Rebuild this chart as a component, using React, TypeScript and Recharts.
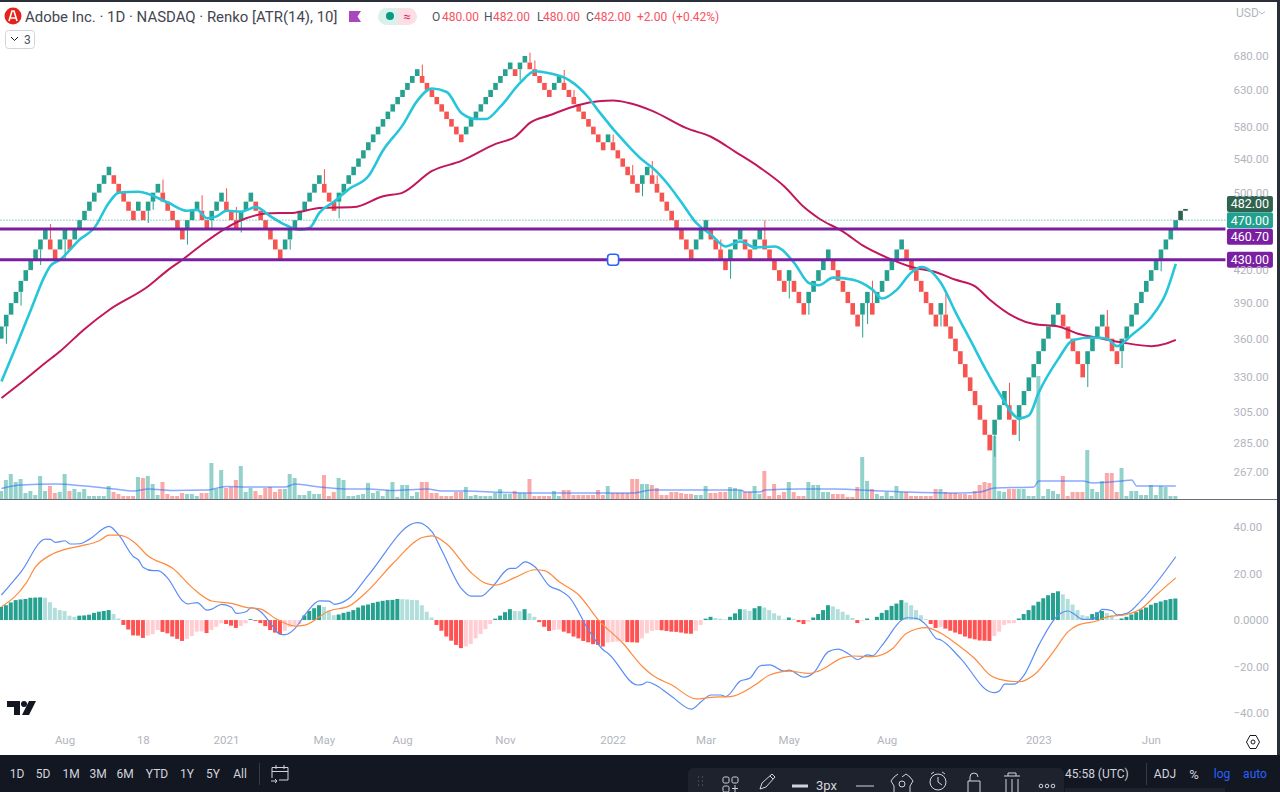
import React from "react";
import {
  Bar,
  Cell,
  ComposedChart,
  Line,
  ReferenceDot,
  ReferenceLine,
  XAxis,
  YAxis,
} from "recharts";

// renko closes, brick size 10, last entry is the forming brick
const closes = [
  370, 380, 390, 400, 410, 420, 430, 440, 450, 460,
  440, 430, 450, 460, 440, 460, 470, 480, 490, 500,
  510, 520, 530, 510, 500, 490, 480, 470, 490, 470,
  490, 500, 510, 490, 480, 470, 460, 450, 470, 480,
  490, 470, 460, 480, 490, 500, 480, 470, 460, 480,
  490, 500, 480, 470, 460, 450, 440, 430, 450, 460,
  470, 480, 490, 500, 510, 520, 500, 490, 480, 500,
  510, 520, 530, 540, 550, 560, 570, 580, 590, 600,
  610, 620, 630, 640, 650, 660, 640,
  630, 620, 610, 600, 590, 580, 570, 560,
  580, 590, 600, 610, 620, 630, 640, 650, 660, 670,
  650, 670, 680, 660, 650, 640, 630, 620, 640, 650,
  630, 620, 610, 600, 590, 580, 570, 560, 550, 570,
  550, 540, 530, 520, 510, 500, 520, 530, 510, 500,
  490, 480, 470, 460, 450, 440, 430, 450, 460, 470,
  450, 440, 430, 420, 440, 450, 460, 440, 430, 450,
  460, 440, 430, 420, 410, 400, 420, 400, 390, 380,
  400, 410, 420,
  430, 440, 420, 410, 400, 390, 380, 370, 390, 400,
  380, 400, 410, 420, 430, 440, 450, 430, 420, 410,
  400, 390, 380, 370, 390, 370, 360, 350, 340, 330,
  320, 310, 300, 290, 280, 300, 310, 320, 300, 290,
  310, 320, 330, 340, 350, 360, 370, 380, 390, 370,
  360, 350, 340, 330, 350, 360, 370, 380, 360, 350,
  340, 360, 370, 380, 390, 400, 410, 420, 430, 440,
  450, 460, 470, 480, 482,
];

const wickBars = [
  1, 4, 8, 10, 13, 30, 31, 33, 38, 41, 43, 46, 48, 49, 59, 66, 69, 86, 106, 108, 109, 115, 117,
  125, 129, 131, 133, 134, 147, 149, 156, 161, 165, 176, 177, 178, 192, 193, 203, 206, 208, 222,
  226, 229, 237,
];
const wickTips = [
  356, 388, 425, 466, 431, 467, 481, 515, 445, 497, 460, 505, 484, 457, 440, 527, 472, 667, 643,
  685, 673, 659, 630, 570, 532, 496, 537, 520, 450, 412, 470, 394, 380, 361, 372, 410, 370, 398,
  276, 326, 286, 323, 384, 337, 419,
];

const fastBars = [
  0, 3, 6, 9, 10, 12, 16, 19, 22, 24, 28, 34, 38, 40, 42, 44, 46, 49, 52, 55, 58, 61, 63, 65, 68,
  71, 75, 78, 82, 85, 88, 91, 94, 97, 99, 102, 106, 109, 112, 116, 120, 122, 128, 131, 133, 136,
  139, 142, 145, 148, 151, 154, 158, 162, 165, 167, 170, 174, 178, 180, 183, 186, 188, 192, 195,
  198, 201, 204, 208, 210, 212, 216, 219, 223, 226, 228, 231, 235, 238, 240,
];
const fastAvg = [
  327, 354, 384, 416, 424, 430, 450, 462, 489, 500, 501, 489, 480, 481, 472, 474, 480, 479, 484,
  474, 465, 460, 462, 478, 490, 504, 519, 550, 582, 615, 632, 627, 598, 590, 590, 607, 640, 657,
  654, 644, 619, 601, 556, 538, 529, 511, 489, 467, 455, 443, 448, 442, 443, 427, 408, 406, 413,
  411, 402, 394, 402, 418, 423, 408, 382, 359, 337, 318, 301, 303, 319, 344, 359, 361, 360, 354,
  363, 378, 399, 426,
];

const slowBars = [
  0, 4, 9, 12, 17, 22, 30, 34, 37, 41, 46, 50, 54, 60, 65, 72, 78, 82, 88, 94, 101, 105, 108, 112,
  118, 122, 125, 128, 133, 140, 145, 150, 155, 160, 164, 167, 172, 176, 181, 186, 191, 195, 199,
  202, 207, 211, 216, 220, 225, 229, 235, 238, 240,
];
const slowAvg = [
  315, 326, 341, 350, 368, 384, 405, 420, 430, 445, 462, 472, 477, 478, 483, 484, 496, 500, 525,
  537, 558, 567, 585, 595, 609, 614, 615, 612, 601, 578, 567, 548, 529, 507, 484, 472, 458, 444,
  432, 423, 418, 411, 405, 393, 378, 372, 370, 364, 360, 357, 354, 356, 359,
];

// relative volume
const volume = [
  8, 19, 25, 17, 20, 6, 8, 4, 23, 8, 13, 6, 7, 25, 8, 10, 7, 10, 3, 3,
  3, 3, 13, 7, 5, 3, 3, 3, 22, 21, 23, 15, 4, 17, 5, 3, 3, 6, 5, 5,
  3, 6, 6, 36, 10, 29, 11, 12, 19, 33, 7, 11, 8, 4, 11, 12, 7, 10, 10, 25,
  21, 4, 4, 8, 5, 5, 24, 3, 7, 21, 19, 3, 3, 4, 5, 16, 6, 8, 3, 9,
  17, 2, 14, 14, 3, 7, 17, 17, 6, 6, 3, 3, 3, 7, 7, 12, 3, 4, 3, 3,
  3, 6, 10, 5, 5, 8, 6, 6, 20, 3, 3, 3, 3, 8, 3, 9, 9, 4, 4, 4,
  4, 4, 9, 4, 13, 6, 6, 6, 6, 20, 20, 15, 15, 14, 11, 4, 4, 7, 7, 6,
  5, 5, 4, 4, 13, 6, 6, 7, 7, 12, 11, 9, 7, 7, 13, 5, 28, 3, 15, 4,
  7, 17, 7, 3, 3, 17, 14, 14, 7, 7, 5, 5, 5, 2, 2, 12, 42, 18, 10, 5,
  3, 7, 3, 13, 7, 7, 3, 3, 3, 3, 3, 10, 10, 7, 6, 6, 5, 5, 4, 8,
  14, 17, 16, 63, 8, 7, 10, 10, 10, 10, 3, 3, 123, 3, 10, 8, 5, 23, 3, 7,
  7, 7, 49, 10, 7, 18, 26, 26, 7, 31, 3, 8, 8, 4, 4, 14, 4, 13, 12, 3, 3,
];

const volAvgBars = [
  0, 4, 11, 17, 23, 27, 30, 35, 42, 46, 50, 58, 60, 65, 70, 75, 80, 87, 90, 95, 102, 109, 122, 129,
  133, 143, 151, 152, 155, 156, 163, 170, 180, 185, 196, 200, 203, 211, 212, 221, 223, 229, 231,
  232, 240,
];
const volAvg = [
  10.6, 14, 15, 13, 10, 8, 10, 8.6, 9, 12.6, 12, 12, 15, 12, 10, 10, 8.6, 10, 8, 8, 6.7, 6, 6, 6, 9,
  9, 9, 7, 7, 9, 10, 10, 8, 7, 6, 7, 11, 12, 18, 18, 16, 18, 19, 13, 13,
];

const histogram = [
  5.7, 6.4, 7.6, 8.6, 8.9, 9.1, 9.6, 9.7, 9.8, 9.6,
  7.7, 5.3, 4.3, 3.9, 1.9, 1.4,
  1.9, 2.0, 2.3, 3.1, 3.6, 3.9, 4.3,
  2.6, 0.7,
  -2.1, -4.1, -6.6, -6.7, -7.7,
  -6.7, -6.1, -4.3,
  -5.1, -5.7, -7.1, -8.1, -9.0,
  -8.1, -6.9, -5.0, -4.9,
  -5.6,
  -4.3, -2.9, -1.4,
  -1.7, -2.4, -3.4,
  -2.6, -1.4,
  0.4,
  -0.4, -1.3, -2.6, -4.3, -5.4, -6.0,
  -4.6, -2.9, -2.1, -1.7,
  2.0, 3.9, 5.1, 6.4,
  5.7, 4.0, 2.1,
  2.4, 3.1, 3.6, 4.3, 5.4, 6.3, 6.7, 7.4, 7.9, 8.3, 8.6, 8.7, 9.1,
  9.0, 8.9, 8.7, 8.6, 6.4, 3.6, 1.1,
  -2.1, -4.6, -7.1, -8.9, -10.7, -12.1,
  -11.4, -10.3, -7.9, -6.0, -3.9, -1.7,
  0.6, 1.9, 3.4, 4.7,
  3.9, 3.8,
  4.7,
  2.9, 1.4,
  -0.9, -2.9, -4.7,
  -4.3, -4.0,
  -5.0, -5.7, -7.1, -7.9, -9.0, -9.6, -10.4, -10.7, -11.4,
  -9.7, -9.4, -9.3, -9.2,
  -9.5, -9.6, -9.7,
  -7.9, -5.7, -4.7, -4.3,
  -4.4, -4.7, -5.0, -5.1, -5.4, -5.8, -5.9,
  -4.6, -2.1,
  0.6, 1.4,
  0.9, 0.6, 0.3,
  1.4, 2.9, 4.7,
  4.6, 3.9,
  5.1, 6.0,
  5.4, 4.3, 2.9, 1.9, 0.3,
  1.1,
  0.4,
  -0.9, -1.7,
  -0.7,
  1.1, 2.6, 4.3, 6.4,
  5.9, 4.7, 3.6, 2.3, 0.9,
  -1.3,
  -0.3,
  0.7,
  0.1,
  1.4, 3.1, 4.3, 6.1, 7.1, 8.6,
  7.6, 6.4, 4.3, 2.1, 0.4,
  -1.7, -3.4,
  -3.1,
  -3.7, -4.6, -5.4, -6.1, -7.1, -7.9, -8.3, -8.8, -8.9, -9.0,
  -6.9, -5.0, -2.1, -1.4, -1.3,
  0.7, 2.6, 4.3, 6.3, 7.9, 9.4, 10.7, 11.7, 12.4,
  11.1, 9.1, 6.7, 4.3, 2.1, 1.7,
  2.6, 3.4, 3.9,
  3.0, 1.9, 0.3,
  0.7, 1.4, 2.4, 3.4, 4.6, 5.4, 6.6, 7.4, 8.0, 8.6, 9.1, 9.3,
];

const macdBars = [
  0, 4, 9, 10, 11, 13, 14, 16, 18, 22, 24, 27, 28, 29, 31, 32, 34, 37, 38, 40, 42, 43, 45, 47, 48,
  50, 51, 53, 55, 57, 58, 60, 62, 65, 67, 68, 71, 75, 85, 88, 90, 94, 96, 98, 100, 104, 105, 107,
  109, 112, 114, 116, 120, 123, 124, 130, 131, 132, 134, 137, 141, 143, 145, 147, 148, 151, 153,
  155, 157, 160, 161, 164, 166, 169, 171, 173, 175, 177, 178, 180, 184, 185, 187, 189, 191, 192,
  196, 202, 203, 204, 205, 207, 209, 212, 216, 218, 219, 221, 223, 225, 227, 228, 230, 233, 240,
];
const macdLine = [
  10.8, 20.8, 34.9, 34.8, 33.5, 34.2, 32.8, 32.9, 34.9, 40.4, 36.6, 27.3, 25.9, 22.7, 21.3, 21.3,
  18, 8.3, 7, 7.5, 4.3, 4.7, 6.8, 5.5, 2.9, 3.6, 5.3, 3.6, -1.4, -6.2, -6.3, -3.6, 2.2, 8.3, 8.2,
  6.8, 9.3, 19.4, 42, 38, 30, 13.6, 10.3, 10.3, 13.6, 22.3, 22.3, 25.1, 23, 14.7, 12.9, 10, -4.3,
  -12.9, -14.4, -28, -27.7, -26.7, -28.4, -33, -38.4, -35.2, -32.3, -32.3, -33, -26.3, -25, -19.8,
  -19.3, -22, -21.6, -24.6, -22.7, -13.6, -12.5, -14.4, -17, -15, -15.4, -10.8, 0, 1, 0.7, -2.2,
  -7.9, -8.6, -16.5, -30.9, -31.3, -30.5, -27.6, -27.6, -23.7, -10.8, 2.2, 3.9, 2.9, 0.3, 0.3, 4.6,
  4, 2.2, 2.9, 8.6, 27.3,
];

const signalBars = [
  0, 5, 7, 10, 13, 16, 20, 22, 24, 27, 30, 35, 39, 43, 47, 50, 53, 56, 60, 62, 67, 71, 75, 80, 86,
  88, 91, 96, 99, 101, 105, 109, 111, 114, 118, 122, 127, 131, 133, 137, 142, 145, 149, 154, 157,
  161, 165, 167, 172, 174, 178, 182, 185, 189, 192, 195, 199, 202, 204, 208, 211, 215, 218, 220,
  224, 226, 230, 233, 236, 240,
];
const signalLine = [
  5.7, 15.8, 23, 28, 30.5, 31.9, 34.2, 36.6, 36.6, 33.8, 27.6, 22.3, 14, 8.2, 7.2, 5.5, 4.7, 0.7,
  -2.6, -2.2, 4, 6, 12.9, 24.4, 35.6, 36.3, 32.8, 20.4, 15.8, 15.1, 18.4, 21.7, 21.3, 16.5, 10.8,
  0, -10, -20, -23.7, -28, -34, -33.3, -33, -28, -23.7, -22, -23, -22, -16.2, -15.5, -15.8, -12.5,
  -5.7, -3.3, -5.7, -10, -16.8, -23.7, -25.6, -26.6, -23.7, -13.6, -5, -2.2, -0.3, 1.4, 2.4, 5,
  10.8, 18.2,
];

const priceTicks = [680, 630, 580, 540, 500, 420, 390, 360, 330, 305, 285, 267];
const macdTicks = [40, 20, 0, -20, -40];
const timeBars = [13, 29, 46, 66, 82, 103, 125, 144, 161, 181, 212, 235];
const timeLabels = ["Aug", "18", "2021", "May", "Aug", "Nov", "2022", "Mar", "May", "Aug", "2023", "Jun"];
const rangeButtons = ["1D", "5D", "1M", "3M", "6M", "YTD", "1Y", "5Y", "All"];
const rangeCenters = [17, 43, 71, 98, 125, 157, 187, 213, 240];

const UP = "#26a18f";
const DOWN = "#f55450";
const FORMING = "#2f6350";
const PURPLE = "#7b1fa2";
const AXIS_TEXT = "#b2b5be";
const FONT = "Roboto, sans-serif";

function lookup(bars: number[], values: number[]) {
  const out = new Map<number, number>();
  bars.forEach((b, k) => out.set(b, values[k]));
  return out;
}

const wickMap = lookup(wickBars, wickTips);
const fastMap = lookup(fastBars, fastAvg);
const slowMap = lookup(slowBars, slowAvg);
const volAvgMap = lookup(volAvgBars, volAvg);
const macdMap = lookup(macdBars, macdLine);
const signalMap = lookup(signalBars, signalLine);

const rows = closes.map((close, i) => {
  const prev = closes[i - 1] ?? close - 10;
  const up = close > prev;
  const lo = i === closes.length - 1 ? prev : up ? close - 10 : close;
  const hi = up ? close : close + 10;
  const tip = wickMap.get(i);
  return {
    i,
    up,
    brick: [lo, hi],
    wick: tip === undefined ? undefined : tip < lo ? [tip, lo] : [hi, tip],
    fast: fastMap.get(i),
    slow: slowMap.get(i),
    vol: volume[i],
    volAvg: volAvgMap.get(i),
    hist: histogram[i],
    macd: macdMap.get(i),
    signal: signalMap.get(i),
  };
});

function histColor(i: number) {
  const v = histogram[i];
  const prev = histogram[i - 1] ?? 0;
  if (v >= 0) return v > prev ? "#26a18f" : "#b2dfdb";
  return v < prev ? "#ff5252" : "#ffcdd2";
}

function PriceTag({ viewBox, text, fill, shift = 0 }: any) {
  const x = viewBox.x + viewBox.width + 1.5;
  const cy = viewBox.y + shift;
  return (
    <g>
      <rect x={x} y={cy - 8} width={46} height={16} rx={2} fill={fill} />
      <text x={x + 23} y={cy + 4.5} textAnchor="middle" fill="#fff" fontSize={12.5} fontFamily={FONT}>
        {text}
      </text>
    </g>
  );
}

function Handle({ cx, cy }: any) {
  return (
    <rect x={cx - 5.5} y={cy - 5.5} width={11} height={11} rx={3} fill="#fff" stroke="#2962ff" strokeWidth={1.6} />
  );
}

const bandPadding = { left: 0, right: 37.4 };

function MainPane() {
  return (
    <ComposedChart
      width={1281.45}
      height={499}
      data={rows}
      margin={{ top: 0, right: 0, bottom: 0, left: 0 }}
      style={{ position: "absolute", left: -1.45, top: 0 }}
    >
      <XAxis xAxisId="main" dataKey="i" hide padding={bandPadding} />
      <XAxis xAxisId="vol" dataKey="i" hide padding={bandPadding} />
      <XAxis xAxisId="wick" dataKey="i" hide padding={bandPadding} />
      <YAxis
        yAxisId="price"
        orientation="right"
        scale="log"
        domain={[251, 771.2]}
        allowDataOverflow
        ticks={priceTicks}
        interval={0}
        width={55}
        axisLine={false}
        tickLine={false}
        tickSize={0}
        tickMargin={8}
        tick={{ fontSize: 11.5, fill: AXIS_TEXT, fontFamily: FONT }}
        tickFormatter={(v) => Number(v).toFixed(2)}
      />
      <YAxis yAxisId="wickY" hide scale="log" domain={[251, 771.2]} allowDataOverflow />
      <YAxis yAxisId="volY" hide domain={[0, 499]} allowDataOverflow />

      <Bar xAxisId="vol" yAxisId="volY" dataKey="vol" barSize={4} isAnimationActive={false}>
        {rows.map((r) => (
          <Cell key={r.i} fill={r.up ? "#93d2cb" : "#f9a9a7"} />
        ))}
      </Bar>
      <Line
        xAxisId="vol"
        yAxisId="volY"
        dataKey="volAvg"
        type="monotone"
        connectNulls
        dot={false}
        stroke="#2962ff"
        strokeOpacity={0.55}
        strokeWidth={1.5}
        isAnimationActive={false}
      />
      <Bar xAxisId="wick" yAxisId="wickY" dataKey="wick" barSize={1} isAnimationActive={false}>
        {rows.map((r) => (
          <Cell key={r.i} fill={r.up ? UP : DOWN} />
        ))}
      </Bar>
      <Bar xAxisId="main" yAxisId="price" dataKey="brick" barSize={4.6} isAnimationActive={false}>
        {rows.map((r) => (
          <Cell key={r.i} fill={r.i > 240 ? FORMING : r.up ? UP : DOWN} />
        ))}
      </Bar>
      <Line
        xAxisId="main"
        yAxisId="price"
        dataKey="slow"
        type="monotone"
        connectNulls
        dot={false}
        stroke="#c2185b"
        strokeWidth={2}
        isAnimationActive={false}
      />
      <Line
        xAxisId="main"
        yAxisId="price"
        dataKey="fast"
        type="monotone"
        connectNulls
        dot={false}
        stroke="#26c6da"
        strokeWidth={2.6}
        isAnimationActive={false}
      />
      <ReferenceLine
        xAxisId="main"
        yAxisId="price"
        y={482}
        strokeOpacity={0}
        label={<PriceTag text="482.00" fill={FORMING} shift={-5} />}
      />
      <ReferenceLine
        xAxisId="main"
        yAxisId="price"
        y={470}
        stroke="#26a69a"
        strokeDasharray="1 2"
        label={<PriceTag text="470.00" fill="#22a08e" />}
      />
      <ReferenceLine
        xAxisId="main"
        yAxisId="price"
        y={460.7}
        stroke={PURPLE}
        strokeWidth={3}
        label={<PriceTag text="460.70" fill={PURPLE} shift={7.7} />}
      />
      <ReferenceLine
        xAxisId="main"
        yAxisId="price"
        y={430}
        stroke={PURPLE}
        strokeWidth={3}
        label={<PriceTag text="430.00" fill={PURPLE} />}
      />
      <ReferenceDot xAxisId="main" yAxisId="price" x={125} y={430} shape={<Handle />} />
    </ComposedChart>
  );
}

function MacdPane() {
  return (
    <ComposedChart
      width={1281.45}
      height={253}
      data={rows}
      margin={{ top: 0, right: 0, bottom: 0, left: 0 }}
      style={{ position: "absolute", left: -1.45, top: 502 }}
    >
      <XAxis
        dataKey="i"
        padding={bandPadding}
        ticks={timeBars}
        interval={0}
        height={25}
        axisLine={false}
        tickLine={false}
        tickSize={0}
        tickMargin={6}
        tick={{ fontSize: 11.5, fill: AXIS_TEXT, fontFamily: FONT }}
        tickFormatter={(v) => timeLabels[timeBars.indexOf(Number(v))] ?? ""}
      />
      <YAxis
        orientation="right"
        domain={[-47.4, 50.9]}
        allowDataOverflow
        ticks={macdTicks}
        interval={0}
        width={55}
        axisLine={false}
        tickLine={false}
        tickSize={0}
        tickMargin={8}
        tick={{ fontSize: 11.5, fill: AXIS_TEXT, fontFamily: FONT }}
        tickFormatter={(v) =>
          v === 0 ? "0.0000" : `${v < 0 ? "\u2212" : ""}${Math.abs(Number(v)).toFixed(2)}`
        }
      />
      <Bar dataKey="hist" barSize={4} isAnimationActive={false}>
        {rows.map((r) => (
          <Cell key={r.i} fill={histColor(r.i)} />
        ))}
      </Bar>
      <Line
        dataKey="macd"
        type="monotone"
        connectNulls
        dot={false}
        stroke="#5b8cf5"
        strokeWidth={1.2}
        isAnimationActive={false}
      />
      <Line
        dataKey="signal"
        type="monotone"
        connectNulls
        dot={false}
        stroke="#ff8a3d"
        strokeWidth={1.2}
        isAnimationActive={false}
      />
    </ComposedChart>
  );
}

function Txt({ x, y, color, size = 12, anchor, weight, children }: any) {
  const shift = anchor === "middle" ? "translate(-50%,-50%)" : anchor === "end" ? "translate(-100%,-50%)" : "translateY(-50%)";
  return (
    <div
      style={{
        position: "absolute",
        left: x,
        top: y,
        transform: shift,
        color,
        fontSize: size,
        fontWeight: weight,
        whiteSpace: "nowrap",
        lineHeight: 1,
      }}
    >
      {children}
    </div>
  );
}

function Header() {
  const dark = "#50535e";
  const red = "#f7525f";
  return (
    <>
      <svg style={{ position: "absolute", left: 0, top: 0 }} width={380} height={50}>
        <circle cx={13} cy={16} r={8.5} fill="#e5231b" />
        <path d="M9 21 L12 11 H14 L17 21 M10.5 18 H15.5" stroke="#fff" strokeWidth={1.6} fill="none" />
        <path d="M349 11 H361 L357.5 16.5 L361 22 H349 Z" fill="#ab47bc" />
        <rect x={5.5} y={30.5} width={29} height={18} rx={3} fill="#fff" stroke="#d1d4dc" />
        <path d="M11 37 L14.5 40.5 L18 37" stroke="#131722" strokeWidth={1} fill="none" />
      </svg>
      <Txt x={25} y={16.5} color="#434651" size={14.95}>
        Adobe Inc. · 1D · NASDAQ · Renko [ATR(14), 10]
      </Txt>
      <Txt x={24} y={39.5} color="#50535e" size={12}>3</Txt>
      <div style={{ position: "absolute", left: 378, top: 8, width: 20, height: 17, borderRadius: "9px 0 0 9px", background: "#d9f0ec" }} />
      <div style={{ position: "absolute", left: 398, top: 8, width: 19, height: 17, borderRadius: "0 9px 9px 0", background: "#fcdfe6" }} />
      <div style={{ position: "absolute", left: 386, top: 12, width: 8, height: 8, borderRadius: 4, background: "#089981" }} />
      <Txt x={407} y={16} color="#e91e63" size={13} anchor="middle">≈</Txt>
      <Txt x={432} y={17} color={dark}>O</Txt>
      <Txt x={442} y={17} color={red}>480.00</Txt>
      <Txt x={484} y={17} color={dark}>H</Txt>
      <Txt x={493} y={17} color={red}>482.00</Txt>
      <Txt x={537} y={17} color={dark}>L</Txt>
      <Txt x={543} y={17} color={red}>480.00</Txt>
      <Txt x={586} y={17} color={dark}>C</Txt>
      <Txt x={594} y={17} color={red}>482.00</Txt>
      <Txt x={637} y={17} color={red}>+2.00</Txt>
      <Txt x={672} y={17} color={red}>(+0.42%)</Txt>
      <Txt x={1236} y={13} color={AXIS_TEXT}>USD</Txt>
      <svg style={{ position: "absolute", left: 1258, top: 10 }} width={8} height={6}>
        <path d="M1 1.5 L4 4 L7 1.5" stroke={AXIS_TEXT} fill="none" />
      </svg>
    </>
  );
}

function Toolbar() {
  const soft = "#d1d4dc";
  return (
    <>
      <div style={{ position: "absolute", left: 0, top: 755, width: 1280, height: 37, background: "#131722" }} />
      {rangeButtons.map((b, k) => (
        <Txt key={b} x={rangeCenters[k]} y={774} color={soft} anchor="middle">
          {b}
        </Txt>
      ))}
      <div style={{ position: "absolute", left: 259, top: 763, width: 1, height: 22, background: "#363a45" }} />
      <svg style={{ position: "absolute", left: 270, top: 764 }} width={20} height={20} fill="none" stroke={soft}>
        <path d="M2 14 V3.5 H18 V16 H9 M2 7.5 H18 M6 1 V5 M14 1 V5 M1 17 H7 M5 15 L7 17 L5 19" />
      </svg>
      <Txt x={1065} y={774} color={soft}>45:58 (UTC)</Txt>
      <div style={{ position: "absolute", left: 1146, top: 763, width: 1, height: 22, background: "#363a45" }} />
      <Txt x={1165} y={774} color={soft} anchor="middle">ADJ</Txt>
      <Txt x={1194} y={774} color={soft} anchor="middle" size={13}>%</Txt>
      <Txt x={1222} y={774} color="#2962ff" anchor="middle">log</Txt>
      <Txt x={1255} y={774} color="#2962ff" anchor="middle">auto</Txt>

      <div style={{ position: "absolute", left: 688, top: 768, width: 376, height: 24, borderRadius: "6px 6px 0 0", background: "#1e222d" }} />
      <div style={{ position: "absolute", left: 1065, top: 788, width: 160, height: 4, background: "#1e222d" }} />
      <svg style={{ position: "absolute", left: 688, top: 768 }} width={376} height={24} fill="none" stroke={soft}>
        <path d="M10 9 h1 M14 9 h1 M10 13 h1 M14 13 h1 M10 17 h1 M14 17 h1" stroke="#50535e" strokeWidth={1.4} />
        <rect x={35} y={9} width={6} height={6} rx={1.5} />
        <rect x={44} y={9} width={6} height={6} rx={1.5} />
        <rect x={35} y={18} width={6} height={6} rx={1.5} />
        <path d="M47 17 V24 M44 20.5 H50" />
        <path d="M72 21 L74 15 L84 6 L87 9 L78 19 Z M82 8 L85 11" />
        <path d="M104 18 H120" strokeWidth={3} />
        <path d="M168 18 H186" />
        <path d="M214 9 L218 6 L222 9 L225 13 L222 18 L222 24 M206 24 V18 L203 13 L206 9 L210 6" />
        <circle cx={214} cy={16} r={3} />
        <circle cx={250} cy={14} r={8} />
        <path d="M243 6 L246 4 M257 6 L254 4 M250 9 V14 L254 17" />
        <path d="M280 24 V13 H292 V24 M282 13 V9 A4 4 0 0 1 290 9" />
        <path d="M316 8 H332 M320 8 V5 H328 V8 M318 11 V24 M330 11 V24 M324 11 V24" />
        <circle cx={353} cy={18} r={1.8} />
        <circle cx={359} cy={18} r={1.8} />
        <circle cx={365} cy={18} r={1.8} />
      </svg>
      <Txt x={816} y={785} color={soft} size={13}>3px</Txt>
    </>
  );
}

export default function App() {
  return (
    <div
      style={{
        position: "absolute",
        left: 0,
        top: 0,
        width: 1280,
        height: 792,
        overflow: "hidden",
        background: "#fff",
        fontFamily: FONT,
      }}
    >
      <MainPane />
      <MacdPane />
      <div style={{ position: "absolute", left: 0, top: 499, width: 1277, height: 1, background: "#6a6d78" }} />
      <div style={{ position: "absolute", left: 0, top: 0, width: 1280, height: 2, background: "#2a2e39" }} />
      <div style={{ position: "absolute", left: 1277, top: 0, width: 3, height: 755, background: "#2a2e39" }} />
      <Header />
      <svg style={{ position: "absolute", left: 7, top: 700 }} width={30} height={16} fill="#131722">
        <path d="M0 1 H13 V15 H7 V7 H0 Z" />
        <circle cx={17} cy={4} r={3} />
        <path d="M22 1 H29 L22 15 H15 Z" />
      </svg>
      <svg style={{ position: "absolute", left: 1245, top: 734 }} width={16} height={16} fill="none" stroke="#131722">
        <path d="M5 1.5 H11 L14.5 8 L11 14.5 H5 L1.5 8 Z" />
        <circle cx={8} cy={8} r={2} />
      </svg>
      <Toolbar />
    </div>
  );
}
